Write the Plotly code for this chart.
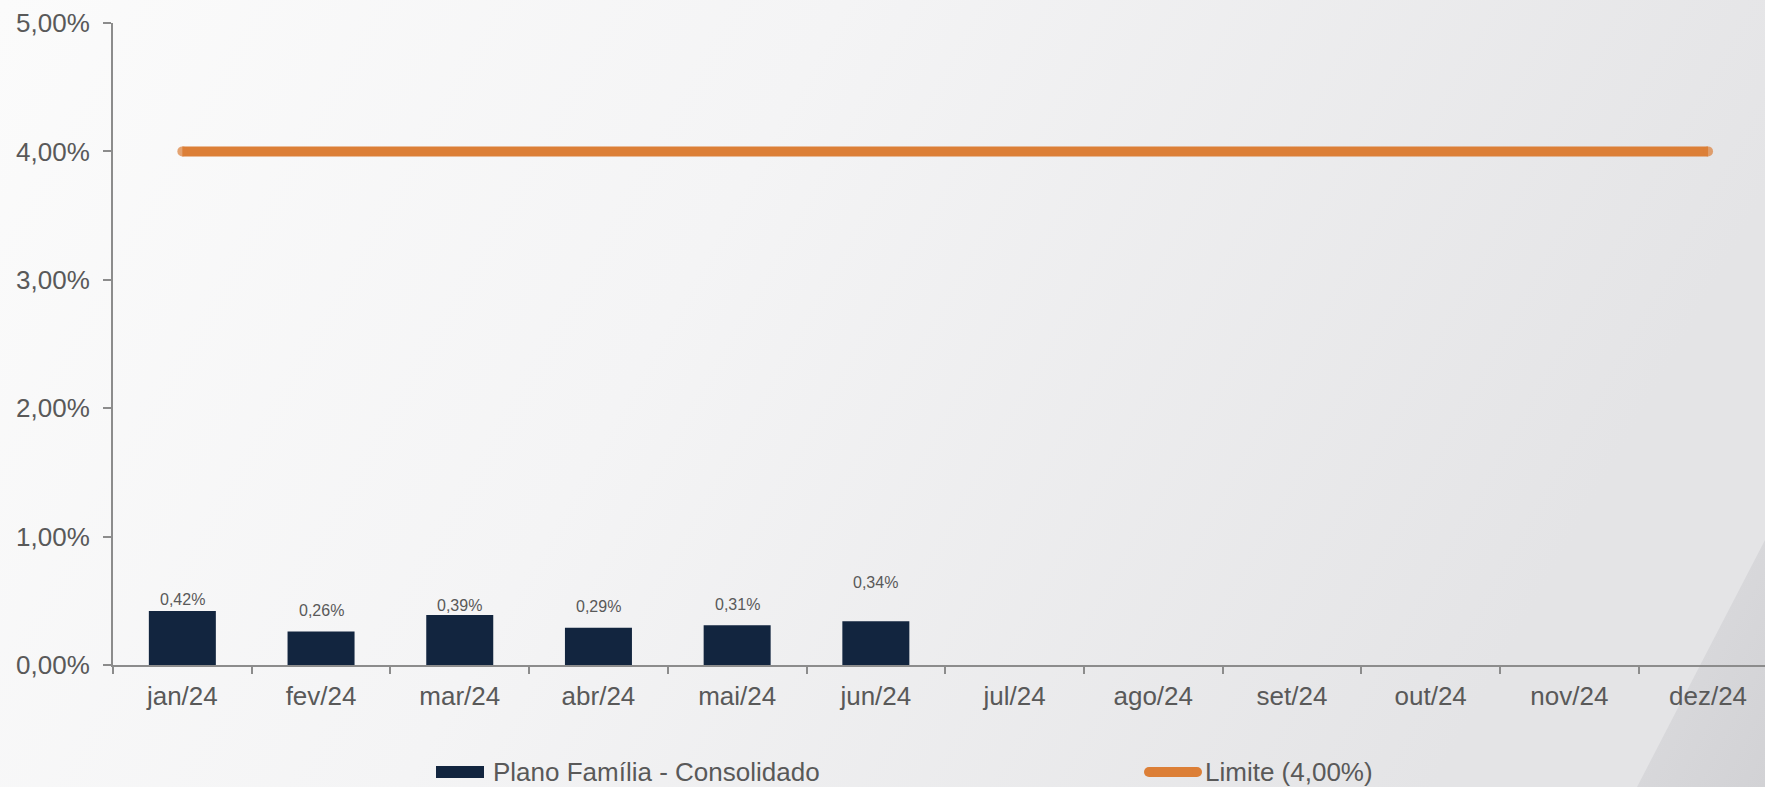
import base64
import plotly.graph_objects as go

# Monthly figures (percent)
months = ["jan/24", "fev/24", "mar/24", "abr/24", "mai/24", "jun/24",
          "jul/24", "ago/24", "set/24", "out/24", "nov/24", "dez/24"]
consolidado = [0.42, 0.26, 0.39, 0.29, 0.31, 0.34]
limite = [4.00] * len(months)
y_ticks = [0, 1, 2, 3, 4, 5]
y_tick_text = ["0,00%", "1,00%", "2,00%", "3,00%", "4,00%", "5,00%"]

# vertical pixel offsets of the value labels above each bar
label_lift = [12, 21, 9, 21, 21, 39]

W, H = 1765, 787
ML, MR, MT, MB = 113, 0, 23, 122
PW, PH = W - ML - MR, H - MT - MB
CAT_PX = 138.7

NAVY = "#12253f"
ORANGE = "#dc7f37"
AXIS = "#8c8c8c"
TEXT = "#595959"
FONT = "Arial, Liberation Sans, sans-serif"


def pct(v):
    return f"{v:.2f}".replace(".", ",") + "%"


# soft grey backdrop with a diagonal band in the lower-right corner
svg = f"""<svg xmlns='http://www.w3.org/2000/svg' width='{W}' height='{H}' viewBox='0 0 {W} {H}'>
<defs>
<linearGradient id='g' x1='0' y1='0' x2='1' y2='0.25'>
<stop offset='0' stop-color='#fbfbfb'/>
<stop offset='0.45' stop-color='#f4f4f5'/>
<stop offset='1' stop-color='#e4e4e6'/>
</linearGradient>
<linearGradient id='d' x1='0' y1='0' x2='1' y2='1'>
<stop offset='0' stop-color='#dddde0'/>
<stop offset='1' stop-color='#d2d2d5'/>
</linearGradient>
</defs>
<rect width='{W}' height='{H}' fill='url(#g)'/>
<polygon points='1765,540 1637,787 1765,787' fill='url(#d)'/>
</svg>"""
bg_src = "data:image/svg+xml;base64," + base64.b64encode(svg.encode()).decode()

fig = go.Figure()

fig.add_trace(go.Bar(
    x=months[:len(consolidado)], y=consolidado,
    name="Plano Família - Consolidado",
    marker=dict(color=NAVY, line=dict(width=0)),
    width=0.483,
    showlegend=False,
))

end_size = [10] + [0] * (len(months) - 2) + [10]
fig.add_trace(go.Scatter(
    x=months, y=limite, mode="lines+markers",
    name="Limite (4,00%)",
    line=dict(color=ORANGE, width=10),
    marker=dict(color=ORANGE, size=end_size, line=dict(width=0)),
    showlegend=False,
))

annotations = []
for m, v, lift in zip(months, consolidado, label_lift):
    annotations.append(dict(
        x=m, y=v, xref="x", yref="y", text=pct(v), showarrow=False,
        yanchor="middle", yshift=lift,
        font=dict(family=FONT, size=16, color=TEXT),
    ))

# legend drawn by hand below the axis
annotations.append(dict(
    x=(491 - ML) / PW, y=(MT + PH - 772) / PH, xref="paper", yref="paper",
    text="Plano Família - Consolidado", showarrow=False,
    xanchor="left", yanchor="middle",
    font=dict(family=FONT, size=26, color=TEXT),
))
annotations.append(dict(
    x=(1203 - ML) / PW, y=(MT + PH - 772) / PH, xref="paper", yref="paper",
    text="Limite (4,00%)", showarrow=False,
    xanchor="left", yanchor="middle",
    font=dict(family=FONT, size=26, color=TEXT),
))


def px_shape(kind, x0, y0, x1, y1, color):
    # pixel offsets measured from the bottom-left corner of the plot area
    return dict(
        type=kind, xref="paper", yref="paper",
        xsizemode="pixel", ysizemode="pixel", xanchor=0, yanchor=0,
        x0=x0 - ML, x1=x1 - ML,
        y0=(MT + PH) - y0, y1=(MT + PH) - y1,
        fillcolor=color, line=dict(width=0), layer="above",
    )


shapes = [
    px_shape("rect", 436, 766, 484, 778, NAVY),
    px_shape("rect", 1149, 767, 1197, 777, ORANGE),
    px_shape("circle", 1144, 767, 1154, 777, ORANGE),
    px_shape("circle", 1192, 767, 1202, 777, ORANGE),
]

fig.update_layout(
    width=W, height=H,
    margin=dict(l=ML, r=MR, t=MT, b=MB, pad=0),
    paper_bgcolor="#f4f4f5",
    plot_bgcolor="rgba(0,0,0,0)",
    font=dict(family=FONT, size=26, color=TEXT),
    showlegend=False,
    bargap=0.5,
    annotations=annotations,
    shapes=shapes,
    images=[dict(
        source=bg_src, xref="paper", yref="paper",
        x=-ML / PW, y=1 + MT / PH, sizex=W / PW, sizey=H / PH,
        xanchor="left", yanchor="top", sizing="stretch", layer="below",
    )],
    xaxis=dict(
        type="category", categoryorder="array", categoryarray=months,
        range=[-0.5, -0.5 + PW / CAT_PX],
        showgrid=False, zeroline=False,
        showline=True, linecolor=AXIS, linewidth=2,
        ticks="outside", tickson="boundaries", ticklen=7, tickwidth=2, tickcolor=AXIS,
        ticklabelstandoff=7,
        tickfont=dict(family=FONT, size=26, color=TEXT),
        fixedrange=True,
    ),
    yaxis=dict(
        range=[0, 5], tickvals=y_ticks, ticktext=y_tick_text,
        showgrid=False, zeroline=False,
        showline=True, linecolor=AXIS, linewidth=2,
        ticks="outside", ticklen=8, tickwidth=2, tickcolor=AXIS,
        ticklabelstandoff=8,
        tickfont=dict(family=FONT, size=26, color=TEXT),
        fixedrange=True,
    ),
)

fig.write_html("out.html")
